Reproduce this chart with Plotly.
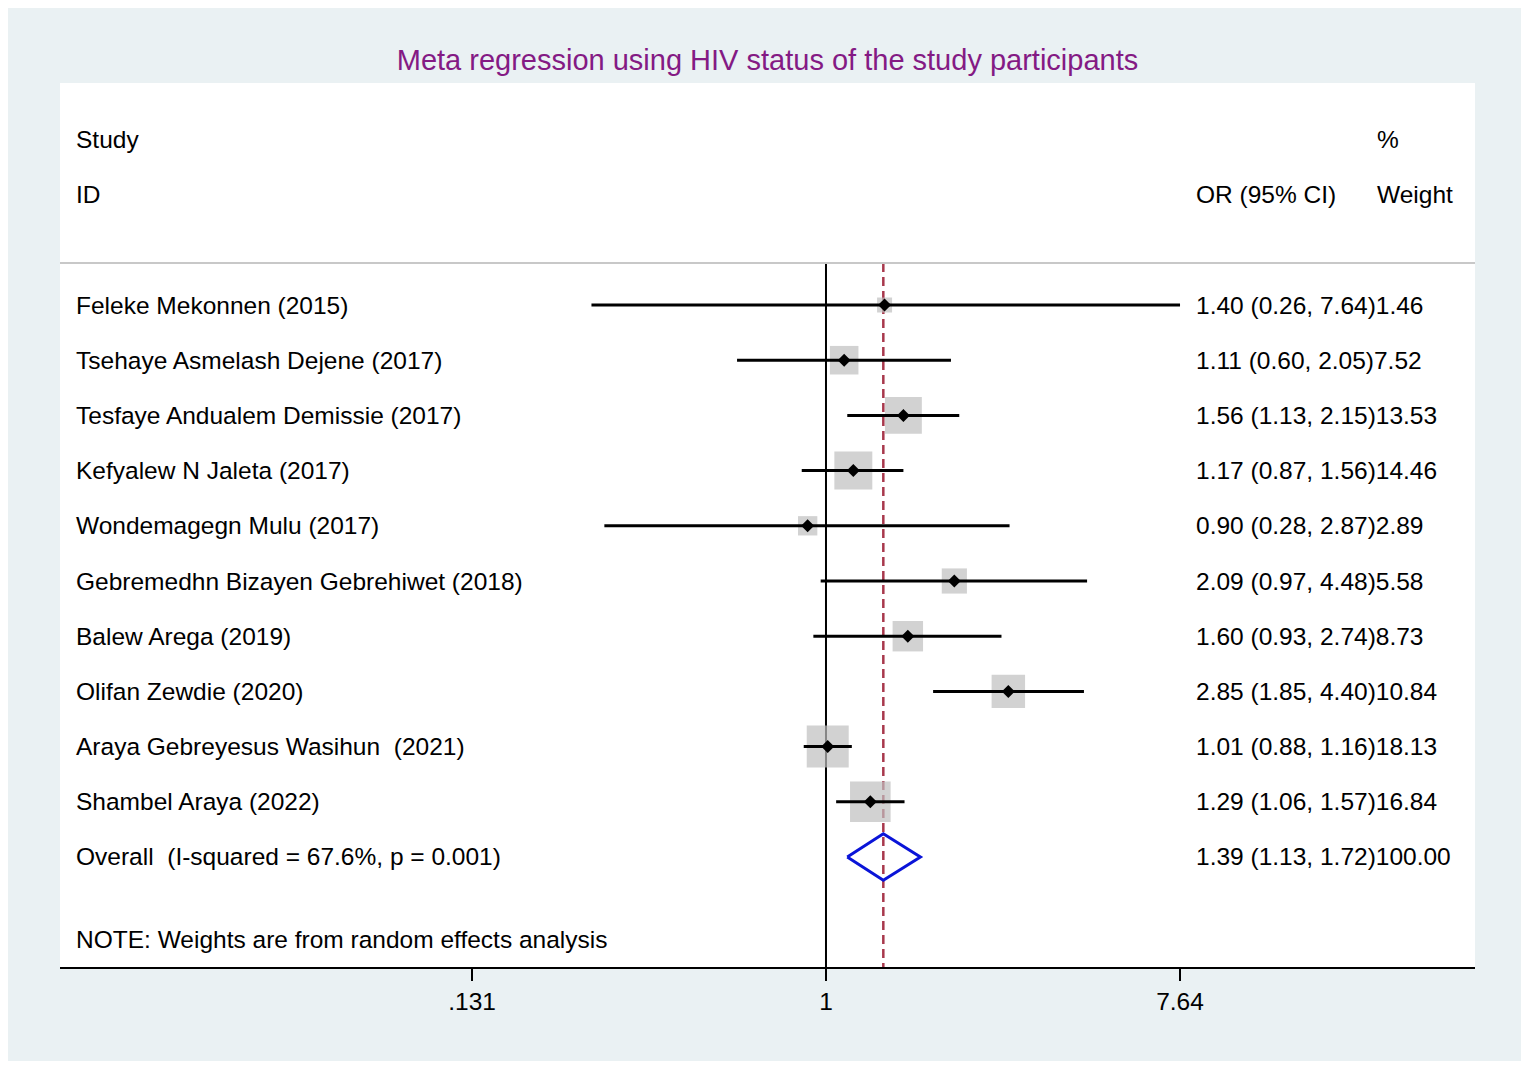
import numpy as np
import plotly.graph_objects as go

studies = ["Feleke Mekonnen (2015)", "Tsehaye Asmelash Dejene (2017)",
           "Tesfaye Andualem Demissie (2017)", "Kefyalew N Jaleta (2017)",
           "Wondemagegn Mulu (2017)", "Gebremedhn Bizayen Gebrehiwet (2018)",
           "Balew Arega (2019)", "Olifan Zewdie (2020)",
           "Araya Gebreyesus Wasihun\u00a0\u00a0(2021)", "Shambel Araya (2022)"]
or_est = [1.40, 1.11, 1.56, 1.17, 0.90, 2.09, 1.60, 2.85, 1.01, 1.29]
ci_low = [0.26, 0.60, 1.13, 0.87, 0.28, 0.97, 0.93, 1.85, 0.88, 1.06]
ci_high = [7.64, 2.05, 2.15, 1.56, 2.87, 4.48, 2.74, 4.40, 1.16, 1.57]
weights = [1.46, 7.52, 13.53, 14.46, 2.89, 5.58, 8.73, 10.84, 18.13, 16.84]

overall_label = "Overall\u00a0\u00a0(I-squared = 67.6%, p = 0.001)"
overall_est, overall_low, overall_high, overall_w = 1.39, 1.13, 1.72, 100.00

tick_vals = [0.131, 1, 7.64]
tick_text = [".131", "1", "7.64"]

title = "Meta regression using HIV status of the study participants"
note = "NOTE: Weights are from random effects analysis"

FONT = "Liberation Sans, Arial, Helvetica, sans-serif"
FS = 24.5
rows = list(range(1, len(studies) + 1))
overall_row = len(studies) + 1
y_top, y_bot = -3.022, 12.993
sep_y = 0.24

fig = go.Figure()

# reference lines (null and overall estimate)
fig.add_trace(go.Scatter(x=[1, 1], y=[sep_y, y_bot], mode="lines",
                         line=dict(color="black", width=2), hoverinfo="skip"))
fig.add_trace(go.Scatter(x=[overall_est, overall_est], y=[sep_y, y_bot], mode="lines",
                         line=dict(color="#a8384c", width=2.5, dash="9px,5px"),
                         hoverinfo="skip"))

# weight boxes
box_size = [np.sqrt(w) * 8.85 + 4.3 for w in weights]
fig.add_trace(go.Scatter(x=or_est, y=rows, mode="markers",
                         marker=dict(symbol="square", size=box_size, color="#bfbfbf",
                                     line=dict(width=0))))

# confidence intervals
for r, lo, hi in zip(rows, ci_low, ci_high):
    fig.add_trace(go.Scatter(x=[lo, hi], y=[r, r], mode="lines",
                             line=dict(color="black", width=3)))

# point estimates
fig.add_trace(go.Scatter(x=or_est, y=rows, mode="markers",
                         marker=dict(symbol="diamond", size=10, color="black")))

# overall diamond
h = 0.42
fig.add_trace(go.Scatter(x=[overall_low, overall_est, overall_high, overall_est, overall_low],
                         y=[overall_row, overall_row - h, overall_row, overall_row + h, overall_row],
                         mode="lines", line=dict(color="#0a14d8", width=3)))

# separator under the header
fig.add_shape(type="line", xref="paper", yref="y", x0=0, x1=1, y0=sep_y, y1=sep_y,
              line=dict(color="#c8c8c8", width=2))

ann = []
def txt(x, y, s):
    ann.append(dict(x=x, y=y, xref="paper", yref="y", text=s, showarrow=False,
                    xanchor="left", yanchor="middle",
                    font=dict(family=FONT, size=FS, color="black")))

x_left, x_or, x_w = 0.0099, 0.8014, 0.9293
txt(x_left, -2, "Study")
txt(x_left, -1, "ID")
txt(x_or, -1, "OR (95% CI)")
txt(x_w, -2, "%")
txt(x_w, -1, "Weight")
for r, s, e, lo, hi, w in zip(rows, studies, or_est, ci_low, ci_high, weights):
    txt(x_left, r, s)
    txt(x_or, r, f"{e:.2f} ({lo:.2f}, {hi:.2f}){w:.2f}")
txt(x_left, overall_row, overall_label)
txt(x_or, overall_row, f"{overall_est:.2f} ({overall_low:.2f}, {overall_high:.2f}){overall_w:.2f}")
txt(x_left, 12.5, note)

fig.update_layout(
    width=1513, height=1053,
    margin=dict(l=52, r=46, t=75, b=94),
    paper_bgcolor="#eaf1f3", plot_bgcolor="white",
    showlegend=False,
    annotations=ann,
    title=dict(text=title, x=0.5, xref="paper", y=1 - 52 / 1053, yanchor="middle",
               font=dict(family=FONT, size=29, color="#841a84")),
    xaxis=dict(type="log", range=[-1.9107, 1.6189], tickvals=tick_vals, ticktext=tick_text,
               showgrid=False, zeroline=False, showline=True, linecolor="black", linewidth=2,
               ticks="outside", ticklen=12, tickwidth=2, tickcolor="black",
               tickfont=dict(family=FONT, size=FS, color="black")),
    yaxis=dict(range=[y_bot, y_top], visible=False, showgrid=False, zeroline=False),
)

fig.write_html("out.html")
